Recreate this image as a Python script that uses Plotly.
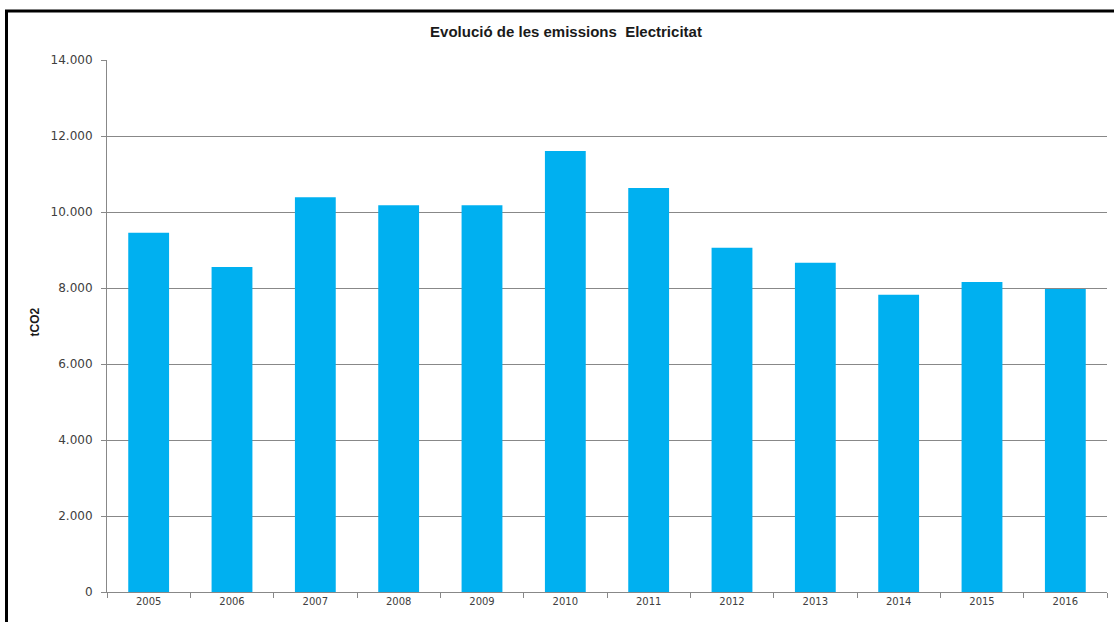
"""
Evolució de les emissions - Electricitat (tCO2)
"""

import plotly.graph_objects as go

# Dades
anys = ['2005', '2006', '2007', '2008', '2009', '2010',
        '2011', '2012', '2013', '2014', '2015', '2016']
emissions = [9455, 8553, 10387, 10176, 10176, 11605,
             10632, 9061, 8666, 7824, 8158, 7974]
y_ticks = [0, 2000, 4000, 6000, 8000, 10000, 12000, 14000]

COLOR_BARRA = '#00B0F0'
COLOR_EIX = '#888888'
COLOR_TEXT = '#404040'

fig = go.Figure()

fig.add_trace(go.Bar(
    x=anys,
    y=emissions,
    marker_color=COLOR_BARRA,
    marker_line_width=0,
    hovertemplate='<b>%{x}</b><br>%{y:,.0f} tCO2<extra></extra>'
))

fig.update_layout(
    width=1114,
    height=622,
    margin=dict(l=107, r=7, t=60, b=30),
    paper_bgcolor='white',
    plot_bgcolor='white',
    separators=',.',
    bargap=0.51,
    showlegend=False,
    title=dict(
        text='<b>Evolució de les emissions  Electricitat</b>',
        x=566 / 1114, xanchor='center',
        y=1 - 32 / 622, yanchor='middle',
        font=dict(family='Liberation Sans, Arial', size=15, color='#1a1a1a')
    ),
    font=dict(family='DejaVu Sans', size=11, color=COLOR_TEXT),
)

fig.update_yaxes(
    range=[0, 14000],
    tickvals=y_ticks,
    tickformat=',d',
    showgrid=True,
    gridcolor=COLOR_EIX,
    gridwidth=1,
    showline=True,
    linecolor=COLOR_EIX,
    linewidth=1,
    ticks='outside',
    ticklen=5,
    tickcolor=COLOR_EIX,
    ticklabelstandoff=6,
    tickfont=dict(family='DejaVu Sans', size=12, color=COLOR_TEXT),
    zeroline=False,
)

fig.update_xaxes(
    type='category',
    showline=True,
    linecolor=COLOR_EIX,
    linewidth=1,
    ticks='outside',
    tickson='boundaries',
    ticklen=5,
    tickcolor=COLOR_EIX,
    tickfont=dict(family='DejaVu Sans', size=10, color=COLOR_TEXT),
    showgrid=False,
)

# Títol de l'eix Y
fig.add_annotation(
    text='<b>tCO2</b>',
    xref='paper', yref='paper',
    x=(34.5 - 107) / 1000, y=(592 - 322) / 532,
    xanchor='center', yanchor='middle',
    textangle=-90,
    showarrow=False,
    font=dict(family='Liberation Sans, Arial', size=12, color='#1a1a1a'),
)

# Marc negre de la imatge
fig.add_shape(
    type='rect',
    xref='paper', yref='paper',
    x0=(6.5 - 107) / 1000, x1=1.2,
    y0=-0.3, y1=(592 - 11) / 532,
    line=dict(color='black', width=3),
    fillcolor='rgba(0,0,0,0)',
    layer='above',
)

fig.write_html("out.html", config={'displayModeBar': False},
               post_script="document.body.style.margin='0';")
